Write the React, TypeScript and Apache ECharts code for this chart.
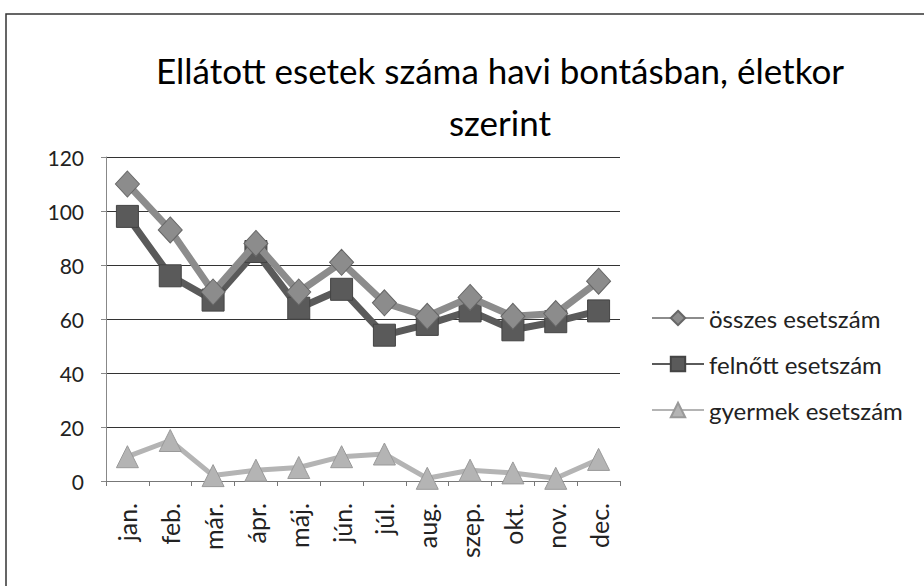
import React, { useEffect, useRef } from "react";
import * as echarts from "echarts";

const months = ["jan.", "feb.", "már.", "ápr.", "máj.", "jún.", "júl.", "aug.", "szep.", "okt.", "nov.", "dec."];
const osszes = [110, 93, 70, 88, 70, 81, 66, 61, 68, 61, 62, 74];
const felnott = [98, 76, 67, 85, 64, 71, 54, 58, 63, 56, 59, 63];
const gyermek = [9, 15, 2, 4, 5, 9, 10, 1, 4, 3, 1, 8];
const seriesNames = ["összes esetszám", "felnőtt esetszám", "gyermek esetszám"];
const titleLines = ["Ellátott esetek száma havi bontásban, életkor", "szerint"];

export default function App() {
  const ref = useRef<HTMLDivElement>(null);
  useEffect(() => {
    if (!ref.current) return;
    const chart = echarts.init(ref.current, null, { renderer: "svg" });
    const font = "Lato, 'Open Sans', sans-serif";
    chart.setOption({
      animation: false,
      backgroundColor: "#fff",
      textStyle: { fontFamily: font },
      graphic: [
        { type: "rect", shape: { x: 6, y: 14, width: 940, height: 600 }, style: { fill: "none", stroke: "#333", lineWidth: 1.5 } },
        { type: "text", x: 500, y: 70, style: { text: titleLines[0], fontSize: 35, fontFamily: font, fill: "#000", align: "center", verticalAlign: "middle" } },
        { type: "text", x: 500, y: 122, style: { text: titleLines[1], fontSize: 35, fontFamily: font, fill: "#000", align: "center", verticalAlign: "middle" } },
      ],
      grid: { left: 106, right: 304, top: 157, bottom: 105 },
      legend: {
        orient: "vertical",
        left: 646,
        top: 301,
        itemWidth: 52,
        itemHeight: 18,
        itemGap: 22,
        textStyle: { fontSize: 24, color: "#222", fontFamily: font },
        data: seriesNames,
      },
      xAxis: {
        type: "category",
        data: months,
        boundaryGap: true,
        axisLine: { lineStyle: { color: "#777", width: 1 } },
        axisTick: { show: true, length: 5, lineStyle: { color: "#777" } },
        axisLabel: { rotate: 90, fontSize: 25, color: "#222", margin: 22, fontFamily: font },
      },
      yAxis: {
        type: "value",
        min: 0,
        max: 120,
        interval: 20,
        axisLine: { show: true, lineStyle: { color: "#888", width: 1 } },
        axisTick: { show: true, length: 5, lineStyle: { color: "#888" } },
        axisLabel: { fontSize: 21, color: "#222", margin: 22, fontFamily: font },
        splitLine: { lineStyle: { color: "#333", width: 1.2 } },
      },
      series: [
        {
          name: seriesNames[0],
          type: "line",
          data: osszes,
          symbol: "diamond",
          symbolSize: [24, 26],
          lineStyle: { color: "#8c8c8c", width: 7 },
          itemStyle: { color: "#8c8c8c", borderColor: "#666", borderWidth: 1 },
          z: 3,
        },
        {
          name: seriesNames[1],
          type: "line",
          data: felnott,
          symbol: "rect",
          symbolSize: 22,
          lineStyle: { color: "#5a5a5a", width: 7 },
          itemStyle: { color: "#5a5a5a", borderColor: "#444", borderWidth: 1 },
          z: 2,
        },
        {
          name: seriesNames[2],
          type: "line",
          data: gyermek,
          symbol: "triangle",
          symbolSize: [22, 22],
          lineStyle: { color: "#b4b4b4", width: 5 },
          itemStyle: { color: "#b4b4b4", borderColor: "#999", borderWidth: 1 },
          z: 4,
        },
      ],
    });
    return () => chart.dispose();
  }, []);
  return <div ref={ref} style={{ width: 924, height: 586, position: "absolute", left: 0, top: 0 }} />;
}
